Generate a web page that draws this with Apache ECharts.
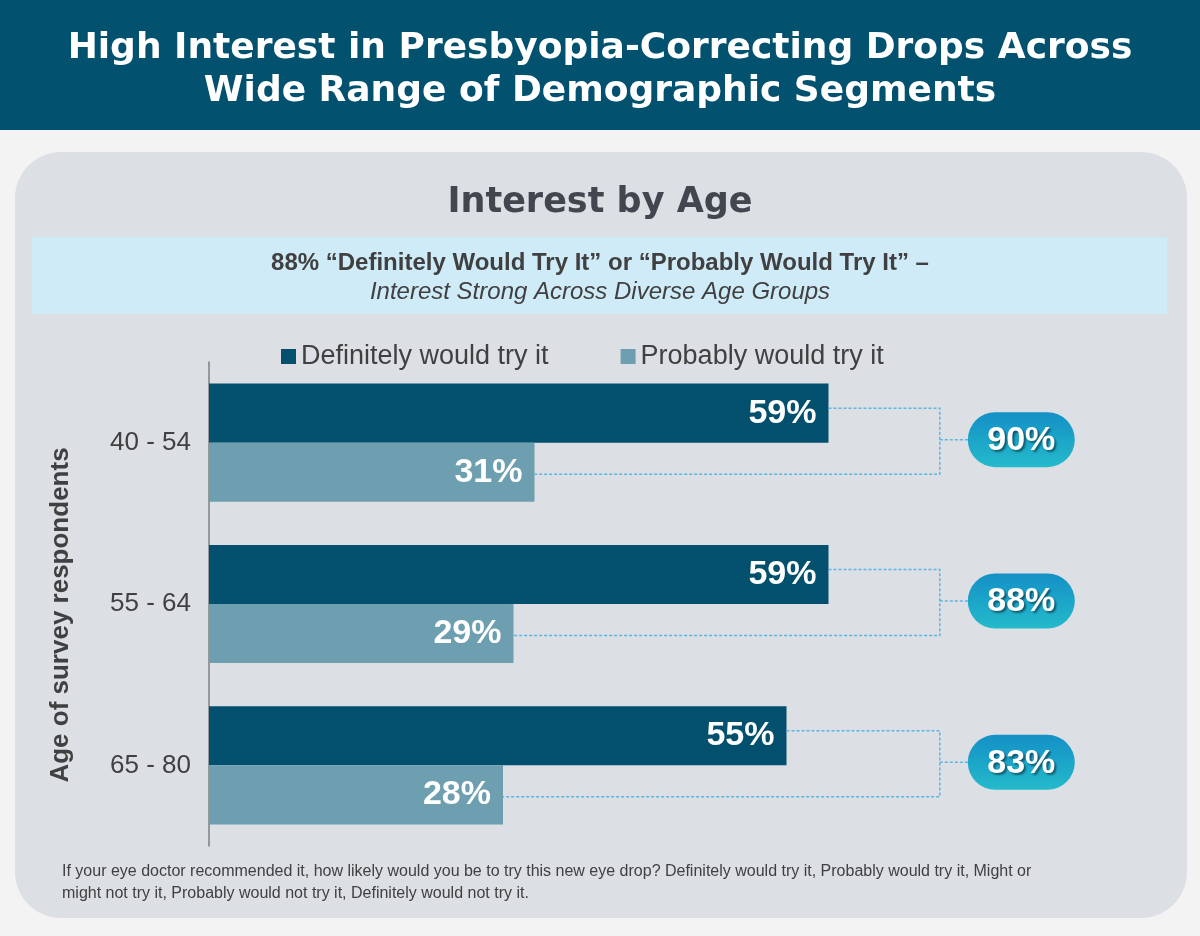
<!DOCTYPE html>
<html>
<head>
<meta charset="utf-8">
<script src="https://cdn.jsdelivr.net/npm/echarts@6/dist/echarts.min.js"></script>
<style>
  html, body { margin: 0; padding: 0; background: #F3F3F3; }
  #chart { width: 1200px; height: 936px; }
</style>
</head>
<body>
<div id="chart"></div>
<script>
// ---- Data ----
const categories = ['40 - 54', '55 - 64', '65 - 80'];
const definitely = [59, 59, 55];
const probably = [31, 29, 28];
const totals = [90, 88, 83];
const seriesNames = ['Definitely would try it', 'Probably would try it'];

const titleText = 'High Interest in Presbyopia-Correcting Drops Across\nWide Range of Demographic Segments';
const chartTitle = 'Interest by Age';
const bannerLine1 = '88% \u201CDefinitely Would Try It\u201D or \u201CProbably Would Try It\u201D \u2013';
const bannerLine2 = 'Interest Strong Across Diverse Age Groups';
const yAxisName = 'Age of survey respondents';
const footnote = 'If your eye doctor recommended it, how likely would you be to try this new eye drop? Definitely would try it, Probably would try it, Might or\nmight not try it, Probably would not try it, Definitely would not try it.';

// ---- Style ----
const DARK = '#02506D';
const LIGHT = '#6E9FB0';
const TEXT = '#404040';
const BRACKET_AT = 69.6;   // x-value where bracket verticals sit
const CAT_GAP = 0.268;

const chart = echarts.init(document.getElementById('chart'), null, { renderer: 'canvas' });

const bracketData = categories.map((c, i) => [i, definitely[i], probably[i], totals[i]]);

const option = {
  backgroundColor: '#F3F3F3',
  animation: false,
  title: [
    {
      text: titleText,
      left: 'center',
      top: 22,
      textStyle: { color: '#FFFFFF', fontFamily: 'DejaVu Sans', fontWeight: 'bold', fontSize: 36, lineHeight: 43 }
    },
    {
      text: chartTitle,
      left: 'center',
      top: 180,
      textStyle: { color: '#41464F', fontFamily: 'DejaVu Sans', fontWeight: 'bold', fontSize: 35 }
    }
  ],
  legend: {
    data: seriesNames,
    top: 338,
    left: 276,
    itemWidth: 15,
    itemHeight: 15,
    itemGap: 72,
    icon: 'rect',
    textStyle: { color: TEXT, fontSize: 27, fontFamily: 'Liberation Sans, Arial, sans-serif' }
  },
  graphic: [
    { type: 'rect', z: -10, shape: { x: 0, y: 0, width: 1200, height: 130 }, style: { fill: '#02516F' } },
    { type: 'rect', z: -10, shape: { x: 15, y: 152, width: 1172, height: 766, r: 46 }, style: { fill: '#DCDFE4' } },
    { type: 'rect', z: -9, shape: { x: 32, y: 237, width: 1135, height: 77 }, style: { fill: '#CFEBF8' } },
    { type: 'text', z: 5, style: { text: bannerLine1, x: 600, y: 263, textAlign: 'center', textVerticalAlign: 'middle', fill: TEXT, font: 'bold 24px "Liberation Sans", Arial, sans-serif' } },
    { type: 'text', z: 5, style: { text: bannerLine2, x: 600, y: 292, textAlign: 'center', textVerticalAlign: 'middle', fill: TEXT, font: 'italic 24px "Liberation Sans", Arial, sans-serif' } },
    { type: 'text', z: 5, rotation: Math.PI / 2, x: 61, y: 615, style: { text: yAxisName, x: 0, y: 0, textAlign: 'center', textVerticalAlign: 'middle', fill: TEXT, font: 'bold 26px "Liberation Sans", Arial, sans-serif' } },
    { type: 'text', z: 5, style: { text: footnote, x: 62, y: 861, fill: TEXT, font: '16px "Liberation Sans", Arial, sans-serif', lineHeight: 22 } }
  ],
  grid: { left: 209, right: 46, top: 362, bottom: 90, containLabel: false },
  xAxis: {
    type: 'value', min: 0, max: 90, show: false
  },
  yAxis: {
    type: 'category',
    data: categories,
    inverse: true,
    axisLine: { show: true, lineStyle: { color: '#7F7F7F', width: 1.5 } },
    axisTick: { show: false },
    axisLabel: { color: TEXT, fontSize: 26, margin: 18, fontFamily: 'Liberation Sans, Arial, sans-serif' },
    splitLine: { show: false }
  },
  series: [
    {
      name: seriesNames[0], type: 'bar', data: definitely,
      barGap: '0%', barCategoryGap: (CAT_GAP * 100) + '%',
      itemStyle: { color: DARK },
      label: { show: true, position: 'insideRight', distance: 12, formatter: '{c}%', color: '#FFFFFF', fontSize: 34, fontWeight: 'bold', fontFamily: 'Liberation Sans, Arial, sans-serif' }
    },
    {
      name: seriesNames[1], type: 'bar', data: probably,
      barGap: '0%', barCategoryGap: (CAT_GAP * 100) + '%',
      itemStyle: { color: LIGHT },
      label: { show: true, position: 'insideRight', distance: 12, formatter: '{c}%', color: '#FFFFFF', fontSize: 34, fontWeight: 'bold', fontFamily: 'Liberation Sans, Arial, sans-serif' }
    },
    {
      name: 'Total', type: 'custom', data: bracketData, z: 5,
      encode: { x: [1, 2, 3], y: 0 },
      renderItem: function (params, api) {
        const i = api.value(0);
        const center = api.coord([0, i]);
        const band = api.size([0, 1])[1];
        const barH = band * (1 - CAT_GAP) / 2;
        const cy = center[1];
        const topY = cy - barH / 2 - 5;
        const botY = cy + barH / 2 + 2;
        const dEnd = api.coord([api.value(1), i])[0];
        const pEnd = api.coord([api.value(2), i])[0];
        const bx = api.coord([BRACKET_AT, i])[0];
        const connY = cy - 3;
        const pillX = bx + 28, pillW = 107, pillH = 55;
        const lineStyle = { stroke: '#5AB5E6', lineWidth: 1.5, lineDash: [3, 2], fill: null };
        return {
          type: 'group',
          children: [
            { type: 'polyline', shape: { points: [[dEnd, topY], [bx, topY], [bx, botY], [pEnd, botY]] }, style: lineStyle },
            { type: 'line', shape: { x1: bx, y1: connY, x2: pillX, y2: connY }, style: { stroke: '#5AB5E6', lineWidth: 1.5, lineDash: [3, 2] } },
            {
              type: 'rect',
              shape: { x: pillX, y: connY - pillH / 2, width: pillW, height: pillH, r: pillH / 2 },
              style: {
                fill: new echarts.graphic.LinearGradient(0, 0, 0, 1, [
                  { offset: 0, color: '#1490C6' },
                  { offset: 1, color: '#24BACB' }
                ])
              }
            },
            {
              type: 'text',
              style: {
                text: api.value(3) + '%', x: pillX + pillW / 2, y: connY + 1,
                textAlign: 'center', textVerticalAlign: 'middle',
                fill: '#FFFFFF', font: 'bold 34px "Liberation Sans", Arial, sans-serif',
                textShadowColor: 'rgba(0,0,0,0.45)', textShadowBlur: 2, textShadowOffsetX: 2, textShadowOffsetY: 2
              }
            }
          ]
        };
      }
    }
  ]
};

chart.setOption(option);
</script>
</body>
</html>
